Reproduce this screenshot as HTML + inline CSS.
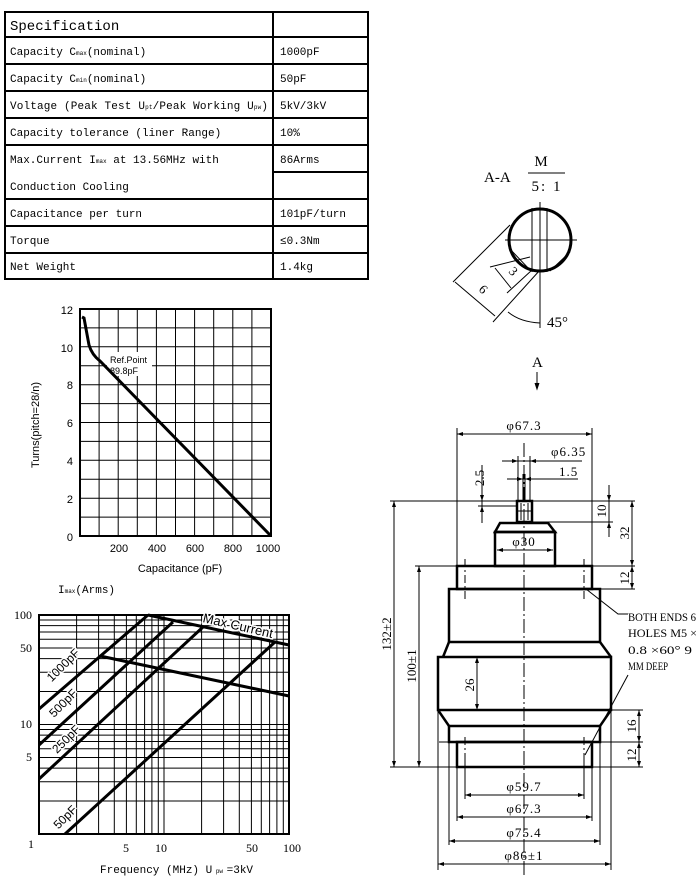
<!DOCTYPE html>
<html><head><meta charset="utf-8"><style>
html,body{margin:0;padding:0;background:#fff;}
svg{display:block;}
.t{font-family:"Liberation Mono","Noto Sans CJK SC",monospace;font-size:11px;}
.s{font-family:"Liberation Sans",sans-serif;font-size:11px;}
.r{font-family:"Liberation Serif","Noto Serif CJK SC",serif;}
</style></head><body>
<svg width="700" height="885" viewBox="0 0 700 885" xmlns="http://www.w3.org/2000/svg">
<g stroke="#000" stroke-width="2" fill="none">
<rect x="5" y="12" width="363" height="267"/>
<line x1="273" y1="12" x2="273" y2="279"/>
<line x1="5" y1="37" x2="368" y2="37"/>
<line x1="5" y1="64" x2="368" y2="64"/>
<line x1="5" y1="91" x2="368" y2="91"/>
<line x1="5" y1="118" x2="368" y2="118"/>
<line x1="5" y1="145" x2="368" y2="145"/>
<line x1="273" y1="172" x2="368" y2="172"/>
<line x1="5" y1="199" x2="368" y2="199"/>
<line x1="5" y1="226" x2="368" y2="226"/>
<line x1="5" y1="253" x2="368" y2="253"/>
</g>
<g class="t" fill="#000">
<text x="10" y="30" style="font-size:14px">Specification</text>
<text x="10" y="55">Capacity C<tspan font-size="6">max</tspan>(nominal)</text>
<text x="10" y="82">Capacity C<tspan font-size="6">min</tspan>(nominal)</text>
<text x="10" y="109" textLength="258">Voltage (Peak Test U<tspan font-size="6">pt</tspan>/Peak Working U<tspan font-size="6">pw</tspan>)</text>
<text x="10" y="136">Capacity tolerance (liner Range)</text>
<text x="10" y="163">Max.Current I<tspan font-size="6">max</tspan> at 13.56MHz with</text>
<text x="10" y="190">Conduction Cooling</text>
<text x="10" y="217">Capacitance per turn</text>
<text x="10" y="244">Torque</text>
<text x="10" y="270">Net Weight</text>
<text x="280" y="55">1000pF</text>
<text x="280" y="82">50pF</text>
<text x="280" y="109">5kV/3kV</text>
<text x="280" y="136">10%</text>
<text x="280" y="163">86Arms</text>
<text x="280" y="217">101pF/turn</text>
<text x="280" y="244">≤0.3Nm</text>
<text x="280" y="270">1.4kg</text>
</g>

<g stroke="#000" stroke-width="1">
<line x1="99.1" y1="309" x2="99.1" y2="536"/><line x1="118.2" y1="309" x2="118.2" y2="536"/><line x1="137.3" y1="309" x2="137.3" y2="536"/><line x1="156.4" y1="309" x2="156.4" y2="536"/><line x1="175.5" y1="309" x2="175.5" y2="536"/><line x1="194.6" y1="309" x2="194.6" y2="536"/><line x1="213.7" y1="309" x2="213.7" y2="536"/><line x1="232.8" y1="309" x2="232.8" y2="536"/><line x1="251.9" y1="309" x2="251.9" y2="536"/>
<line x1="80" y1="327.9" x2="271" y2="327.9"/><line x1="80" y1="346.8" x2="271" y2="346.8"/><line x1="80" y1="365.8" x2="271" y2="365.8"/><line x1="80" y1="384.7" x2="271" y2="384.7"/><line x1="80" y1="403.6" x2="271" y2="403.6"/><line x1="80" y1="422.5" x2="271" y2="422.5"/><line x1="80" y1="441.4" x2="271" y2="441.4"/><line x1="80" y1="460.3" x2="271" y2="460.3"/><line x1="80" y1="479.3" x2="271" y2="479.3"/><line x1="80" y1="498.2" x2="271" y2="498.2"/><line x1="80" y1="517.1" x2="271" y2="517.1"/>
</g>
<rect x="80" y="309" width="191" height="227" fill="none" stroke="#000" stroke-width="2"/>
<rect x="107" y="352" width="45" height="24" fill="#fff"/>
<path d="M82,317 L84,318 L89,345 Q92,355 100,361 L271,536" fill="none" stroke="#000" stroke-width="3"/>
<g class="s" fill="#000">
<text x="110" y="363" font-size="9">Ref.Point</text>
<text x="110" y="374" font-size="9">89.8pF</text>
<g text-anchor="end"><text x="73" y="314">12</text><text x="73" y="352">10</text><text x="73" y="389">8</text><text x="73" y="427">6</text><text x="73" y="465">4</text><text x="73" y="503">2</text><text x="73" y="541">0</text></g>
<g text-anchor="middle"><text x="119" y="552">200</text><text x="157" y="552">400</text><text x="195" y="552">600</text><text x="233" y="552">800</text><text x="268" y="552">1000</text></g>
<text x="180" y="572" text-anchor="middle">Capacitance (pF)</text>
<text transform="translate(39,425) rotate(-90)" text-anchor="middle">Turns(pitch=28/n)</text>
</g>

<g stroke="#000" stroke-width="1">
<line x1="76.6" y1="615" x2="76.6" y2="834"/><line x1="98.6" y1="615" x2="98.6" y2="834"/><line x1="114.3" y1="615" x2="114.3" y2="834"/><line x1="126.4" y1="615" x2="126.4" y2="834"/><line x1="136.3" y1="615" x2="136.3" y2="834"/><line x1="144.6" y1="615" x2="144.6" y2="834"/><line x1="151.9" y1="615" x2="151.9" y2="834"/><line x1="158.3" y1="615" x2="158.3" y2="834"/><line x1="164" y1="615" x2="164" y2="834"/>
<line x1="201.6" y1="615" x2="201.6" y2="834"/><line x1="223.6" y1="615" x2="223.6" y2="834"/><line x1="239.3" y1="615" x2="239.3" y2="834"/><line x1="251.4" y1="615" x2="251.4" y2="834"/><line x1="261.3" y1="615" x2="261.3" y2="834"/><line x1="269.6" y1="615" x2="269.6" y2="834"/><line x1="276.9" y1="615" x2="276.9" y2="834"/><line x1="283.3" y1="615" x2="283.3" y2="834"/>
<line x1="39" y1="801" x2="289" y2="801"/><line x1="39" y1="781.8" x2="289" y2="781.8"/><line x1="39" y1="768.1" x2="289" y2="768.1"/><line x1="39" y1="757.5" x2="289" y2="757.5"/><line x1="39" y1="748.8" x2="289" y2="748.8"/><line x1="39" y1="741.5" x2="289" y2="741.5"/><line x1="39" y1="735.1" x2="289" y2="735.1"/><line x1="39" y1="729.5" x2="289" y2="729.5"/><line x1="39" y1="724.5" x2="289" y2="724.5"/>
<line x1="39" y1="691.5" x2="289" y2="691.5"/><line x1="39" y1="672.3" x2="289" y2="672.3"/><line x1="39" y1="658.6" x2="289" y2="658.6"/><line x1="39" y1="648" x2="289" y2="648"/><line x1="39" y1="639.3" x2="289" y2="639.3"/><line x1="39" y1="632" x2="289" y2="632"/><line x1="39" y1="625.6" x2="289" y2="625.6"/><line x1="39" y1="620" x2="289" y2="620"/>
</g>
<rect x="39" y="615" width="250" height="219" fill="none" stroke="#000" stroke-width="2"/>
<g stroke="#000" stroke-width="3" fill="none">
<line x1="39" y1="709" x2="148" y2="615"/>
<line x1="39" y1="745" x2="173" y2="622"/>
<line x1="39" y1="779" x2="203" y2="627"/>
<line x1="65" y1="834" x2="275" y2="642"/>
<line x1="148" y1="615" x2="289" y2="645"/>
<line x1="100" y1="656" x2="289" y2="696"/>
</g>
<g class="s" fill="#000" style="font-size:12px">
<text transform="translate(66,668) rotate(-45)" text-anchor="middle" stroke="#fff" stroke-width="3" paint-order="stroke">1000pF</text>
<text transform="translate(66,706) rotate(-45)" text-anchor="middle" stroke="#fff" stroke-width="3" paint-order="stroke">500pF</text>
<text transform="translate(69,742) rotate(-45)" text-anchor="middle" stroke="#fff" stroke-width="3" paint-order="stroke">250pF</text>
<text transform="translate(68,820) rotate(-45)" text-anchor="middle" stroke="#fff" stroke-width="3" paint-order="stroke">50pF</text>
<text transform="translate(237,630) rotate(13)" text-anchor="middle" stroke="#fff" stroke-width="3" paint-order="stroke" style="font-size:13px">Max Current</text>
</g>
<g class="r" fill="#000" style="font-size:12px">
<text x="14" y="619">100</text><text x="20" y="652">50</text><text x="20" y="728">10</text><text x="26" y="761">5</text><text x="28" y="848">1</text>
<text x="123" y="852">5</text><text x="155" y="852">10</text><text x="246" y="852">50</text><text x="283" y="852">100</text>
</g>
<text x="58" y="593" class="t">I<tspan font-size="6">max</tspan>(Arms)</text>
<text x="100" y="873" class="t">Frequency (MHz) U<tspan font-size="6"> pw </tspan>=3kV</text>

<g class="r" fill="#000" style="font-size:15px">
<text x="484" y="182">A-A</text>
<text x="541" y="166" text-anchor="middle">M</text>
<text x="547" y="191" text-anchor="middle" letter-spacing="2">5: 1</text>
<text x="532" y="367">A</text>
<text x="547" y="327">45°</text>
<text transform="translate(508,272) rotate(45)" style="font-size:13px">3</text>
<text transform="translate(478,290) rotate(45)" style="font-size:13px">6</text>
</g>
<line x1="528" y1="173" x2="565" y2="173" stroke="#000"/>
<g stroke="#000" fill="none" stroke-width="1">
<line x1="505" y1="240" x2="577" y2="240"/>
<line x1="540" y1="202" x2="540" y2="328"/>
<line x1="532" y1="208" x2="532" y2="272"/><line x1="547" y1="208" x2="547" y2="272"/>
<line x1="509" y1="248" x2="530" y2="270"/><line x1="570" y1="252" x2="550" y2="271"/>
<line x1="510" y1="225" x2="453" y2="282"/><line x1="540" y1="270" x2="493" y2="322"/>
<line x1="455" y1="282" x2="495" y2="316"/>
<line x1="530" y1="257" x2="490" y2="267"/><line x1="532" y1="270" x2="507" y2="293"/>
<line x1="495" y1="268" x2="511" y2="288"/>
<path d="M508,312 Q520,322 540,323"/>
<line x1="537" y1="372" x2="537" y2="388"/>
<path d="M535,383 L537,389 L539,383" fill="#000"/>
</g>
<circle cx="540" cy="240" r="31" fill="none" stroke="#000" stroke-width="3"/>

<g stroke="#000" stroke-width="1" fill="none">
<line x1="524" y1="443" x2="524" y2="875" stroke-dasharray="14,3,2,3"/>
<line x1="457" y1="434" x2="592" y2="434"/><line x1="457" y1="428" x2="457" y2="566"/><line x1="592" y1="428" x2="592" y2="566"/>
<line x1="502" y1="461" x2="582" y2="461"/><line x1="518" y1="456" x2="518" y2="501"/><line x1="530" y1="456" x2="530" y2="501"/>
<line x1="507" y1="479" x2="578" y2="479"/><line x1="523" y1="474" x2="523" y2="501"/><line x1="525" y1="474" x2="525" y2="501"/>
<line x1="482" y1="465" x2="482" y2="523"/><line x1="478" y1="506" x2="518" y2="506"/>
<line x1="390" y1="501" x2="635" y2="501"/>
<line x1="532" y1="522" x2="613" y2="522"/>
<line x1="609" y1="485" x2="609" y2="537"/>
<line x1="632" y1="501" x2="632" y2="589"/>
<line x1="415" y1="566" x2="635" y2="566"/>
<line x1="592" y1="589" x2="635" y2="589"/>
<line x1="394" y1="501" x2="394" y2="767"/>
<line x1="419" y1="566" x2="419" y2="767"/>
<line x1="477" y1="662" x2="477" y2="708"/>
<line x1="611" y1="710" x2="643" y2="710"/><line x1="439" y1="742" x2="643" y2="742"/>
<line x1="639" y1="710" x2="639" y2="767"/>
<line x1="390" y1="767" x2="643" y2="767"/>
<line x1="497" y1="550" x2="553" y2="550"/>
<polyline points="586,589 618,614 628,614"/>
<line x1="628" y1="675" x2="585" y2="755"/>
<line x1="465" y1="559" x2="465" y2="602" stroke-dasharray="8,3,2,3"/><line x1="584" y1="559" x2="584" y2="602" stroke-dasharray="8,3,2,3"/>
<line x1="465" y1="737" x2="465" y2="757" stroke-dasharray="8,3,2,3"/><line x1="584" y1="737" x2="584" y2="757" stroke-dasharray="8,3,2,3"/>
<line x1="465" y1="795" x2="584" y2="795"/><line x1="465" y1="757" x2="465" y2="799"/><line x1="584" y1="757" x2="584" y2="799"/>
<line x1="457" y1="817" x2="592" y2="817"/><line x1="457" y1="767" x2="457" y2="821"/><line x1="592" y1="767" x2="592" y2="821"/>
<line x1="449" y1="841" x2="600" y2="841"/><line x1="449" y1="742" x2="449" y2="845"/><line x1="600" y1="742" x2="600" y2="845"/>
<line x1="438" y1="864" x2="611" y2="864"/><line x1="438" y1="710" x2="438" y2="870"/><line x1="611" y1="710" x2="611" y2="870"/>
</g>
<g fill="#000">
<path d="M457,434 l6,-2 v4z"/><path d="M592,434 l-6,-2 v4z"/>
<path d="M518,461 l-6,-2 v4z"/><path d="M530,461 l6,-2 v4z"/>
<path d="M523,479 l-6,-2 v4z"/><path d="M525,479 l6,-2 v4z"/>
<path d="M482,501 l-2,-6 h4z"/><path d="M482,506 l-2,6 h4z"/>
<path d="M609,501 l-2,-6 h4z"/><path d="M609,522 l-2,6 h4z"/>
<path d="M632,501 l-2,6 h4z"/><path d="M632,566 l-2,-6 h4z"/><path d="M632,566 l-2,6 h4z"/><path d="M632,589 l-2,-6 h4z"/>
<path d="M394,501 l-2,6 h4z"/><path d="M394,767 l-2,-6 h4z"/>
<path d="M419,566 l-2,6 h4z"/><path d="M419,767 l-2,-6 h4z"/>
<path d="M477,657 l-2,6 h4z"/><path d="M477,710 l-2,-6 h4z"/>
<path d="M639,710 l-2,6 h4z"/><path d="M639,742 l-2,-6 h4z"/><path d="M639,742 l-2,6 h4z"/><path d="M639,767 l-2,-6 h4z"/>
<path d="M497,550 l6,-2 v4z"/><path d="M553,550 l-6,-2 v4z"/>
<path d="M465,795 l6,-2 v4z"/><path d="M584,795 l-6,-2 v4z"/>
<path d="M457,817 l6,-2 v4z"/><path d="M592,817 l-6,-2 v4z"/>
<path d="M449,841 l6,-2 v4z"/><path d="M600,841 l-6,-2 v4z"/>
<path d="M438,864 l6,-2 v4z"/><path d="M611,864 l-6,-2 v4z"/>
</g>
<g stroke="#000" stroke-width="2.5" fill="none">
<rect x="517" y="501" width="15" height="21"/>
<polygon points="495,532 500,523 548,523 555,532"/>
<rect x="495" y="532" width="60" height="34"/>
<rect x="457" y="566" width="135" height="23"/>
<rect x="449" y="589" width="151" height="53"/>
<polyline points="449,642 443,657"/><polyline points="600,642 611,657"/>
<rect x="438" y="657" width="173" height="53"/>
<polyline points="438,710 449,726"/><polyline points="611,710 600,726"/>
<rect x="449" y="726" width="151" height="16"/>
<rect x="457" y="742" width="135" height="25"/>
</g>
<g stroke="#000" stroke-width="1"><line x1="521" y1="503" x2="521" y2="520"/><line x1="528" y1="503" x2="528" y2="520"/><line x1="517" y1="511" x2="532" y2="511"/></g>
<g class="r" fill="#000" style="font-size:13px">
<text x="524" y="430" text-anchor="middle" letter-spacing="1">φ67.3</text>
<text x="551" y="456" letter-spacing="1">φ6.35</text>
<text x="559" y="476" letter-spacing="1">1.5</text>
<text x="524" y="546" text-anchor="middle" letter-spacing="1">φ30</text>
<text transform="translate(484,478) rotate(-90)" text-anchor="middle">2.5</text>
<text transform="translate(606,511) rotate(-90)" text-anchor="middle">10</text>
<text transform="translate(629,533) rotate(-90)" text-anchor="middle">32</text>
<text transform="translate(629,578) rotate(-90)" text-anchor="middle">12</text>
<text transform="translate(391,634) rotate(-90)" text-anchor="middle">132±2</text>
<text transform="translate(416,666) rotate(-90)" text-anchor="middle">100±1</text>
<text transform="translate(474,685) rotate(-90)" text-anchor="middle">26</text>
<text transform="translate(636,726) rotate(-90)" text-anchor="middle">16</text>
<text transform="translate(636,755) rotate(-90)" text-anchor="middle">12</text>
<text x="628" y="621" style="font-size:12px" textLength="68" lengthAdjust="spacingAndGlyphs">BOTH ENDS 6</text>
<text x="628" y="637" style="font-size:12px" textLength="69" lengthAdjust="spacingAndGlyphs">HOLES  M5 ×</text>
<text x="628" y="654" style="font-size:12px" textLength="64" lengthAdjust="spacingAndGlyphs">0.8 ×60° 9</text>
<text x="628" y="670" style="font-size:12px" textLength="40" lengthAdjust="spacingAndGlyphs">MM DEEP</text>
<text x="524" y="791" text-anchor="middle" letter-spacing="1">φ59.7</text>
<text x="524" y="813" text-anchor="middle" letter-spacing="1">φ67.3</text>
<text x="524" y="837" text-anchor="middle" letter-spacing="1">φ75.4</text>
<text x="524" y="860" text-anchor="middle" letter-spacing="1">φ86±1</text>
</g>
</svg>
</body></html>
